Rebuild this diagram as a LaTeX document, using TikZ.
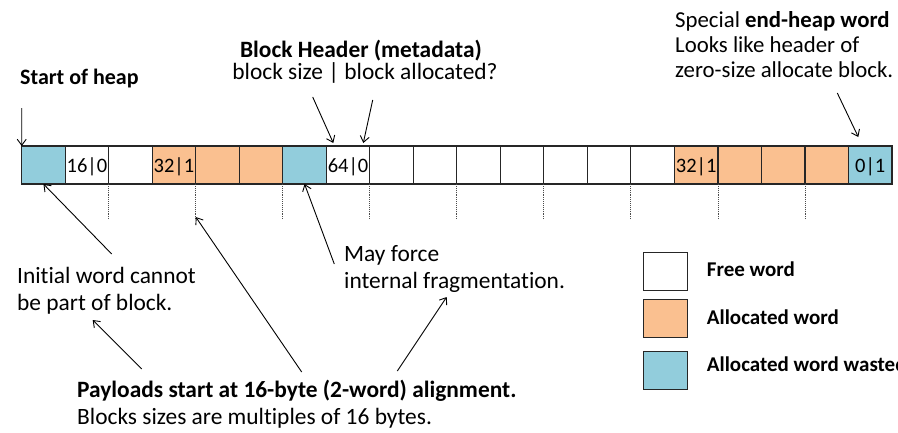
\documentclass[tikz,border=0pt]{standalone}
\usepackage{fontspec}
\setmainfont{Carlito}[Ligatures=NoCommon]
\usetikzlibrary{arrows.meta}
\definecolor{cblue}{RGB}{146,205,220}
\definecolor{corange}{RGB}{250,192,144}
\begin{document}
\begin{tikzpicture}[x=1pt,y=-1pt,
  cell/.style={draw=black!85, line width=1.1pt, minimum width=43.5pt, minimum height=38pt, inner sep=0pt, outer sep=0pt, font=\fontsize{20.5}{24}\selectfont, text height=14.5pt, text depth=0pt},
  freew/.style={cell, fill=white},
  allocw/.style={cell, fill=corange},
  wastew/.style={cell, fill=cblue},
  txt/.style={anchor=base west, inner sep=0pt, font=\fontsize{23.4}{27}\selectfont},
  btxt/.style={anchor=base west, inner sep=0pt, font=\fontsize{23.4}{27}\selectfont\bfseries},
  rtxt/.style={anchor=base west, inner sep=0pt, font=\fontsize{22.8}{26}\selectfont},
  legtxt/.style={anchor=base west, inner sep=0pt, font=\fontsize{21}{24}\selectfont\bfseries},
  legbox/.style={draw=black!85, line width=1.1pt, minimum width=44.6pt, minimum height=38pt, inner sep=0pt, anchor=north west},
  pointer/.style={-{Straight Barb[length=6pt,width=9pt]}, line width=0.9pt},
  guide/.style={densely dotted, line width=0.9pt, black!70}
]
\useasboundingbox (0,0) rectangle (898,432);

% heap row
\foreach \i/\s/\t in {0/wastew/{},1/freew/16|0,2/freew/{},3/allocw/32|1,4/allocw/{},5/allocw/{},6/wastew/{},7/freew/64|0,8/freew/{},9/freew/{},10/freew/{},11/freew/{},12/freew/{},13/freew/{},14/freew/{},15/allocw/32|1,16/allocw/{},17/allocw/{},18/allocw/{},19/wastew/0|1}
  \node[\s] (c\i) at ({21.7+43.515*(\i+0.5)},165) {\t};

% alignment guides
\foreach \k in {2,4,...,18}
  \draw[guide] (c\k.south west) -- ++(0,35) coordinate (g\k);

% texts
\node[btxt, font=\fontsize{22}{26}\selectfont\bfseries] (soh) at (20,84) {Start of heap};
\node[btxt, anchor=base] (bh1) at (361,57) {Block Header (metadata)};
\node[txt, anchor=base] (bh2) at (365,79) {block size | block allocated?};
\node[rtxt] (eh1) at (675,27) {Special \textbf{end-heap word}};
\node[rtxt] (eh2) at (675,52) {Looks like header of};
\node[rtxt] (eh3) at (675,77) {zero-size allocate block.};
\node[txt] (iw1) at (17,283) {Initial word cannot};
\node[txt] (iw2) at (17,310) {be part of block.};
\node[txt] (mf1) at (344,261) {May force};
\node[txt] (mf2) at (344,288) {internal fragmentation.};
\node[btxt] (pl1) at (77,397) {Payloads start at 16-byte (2-word) alignment.};
\node[txt] (pl2) at (77,424) {Blocks sizes are multiples of 16 bytes.};

% legend
\node[legbox, fill=white] (lb1) at (642.7,252.3) {};
\node[legbox, fill=corange] (lb2) at (642.7,299.3) {};
\node[legbox, fill=cblue] (lb3) at (642.7,350.5) {};
\node[legtxt] (lt1) at (706.7,276) {Free word};
\node[legtxt] (lt2) at (706.7,324) {Allocated word};
\node[legtxt] (lt3) at (706.7,371) {Allocated word wasted};

% arrow ends
\coordinate (fT) at (21.7,108);
\coordinate (gT) at (312.7,97);
\coordinate (gH) at (333.3,143);
\coordinate (hT) at (372.7,100);
\coordinate (hH) at (363.3,143);
\coordinate (iT) at (837.3,93);
\coordinate (iH) at (858.3,137);
\coordinate (aT) at (111.7,254);
\coordinate (bT) at (141.7,369);
\coordinate (bH) at (92.7,320);
\coordinate (cT) at (301.7,372);
\coordinate (dT) at (334.3,264);
\coordinate (eT) at (397.3,371);
\coordinate (eH) at (446.7,297);

\draw[pointer] (fT) -- (c0.north west);
\draw[pointer] (gT) -- (gH);
\draw[pointer] (hT) -- (hH);
\draw[pointer] (iT) -- (iH);
\draw[pointer] (aT) -- (c0.south);
\draw[pointer] (bT) -- (bH);
\draw[pointer] (cT) -- ([yshift=2pt]g4);
\draw[pointer] (dT) -- (c6.south);
\draw[pointer] (eT) -- (eH);
\end{tikzpicture}
\end{document}
